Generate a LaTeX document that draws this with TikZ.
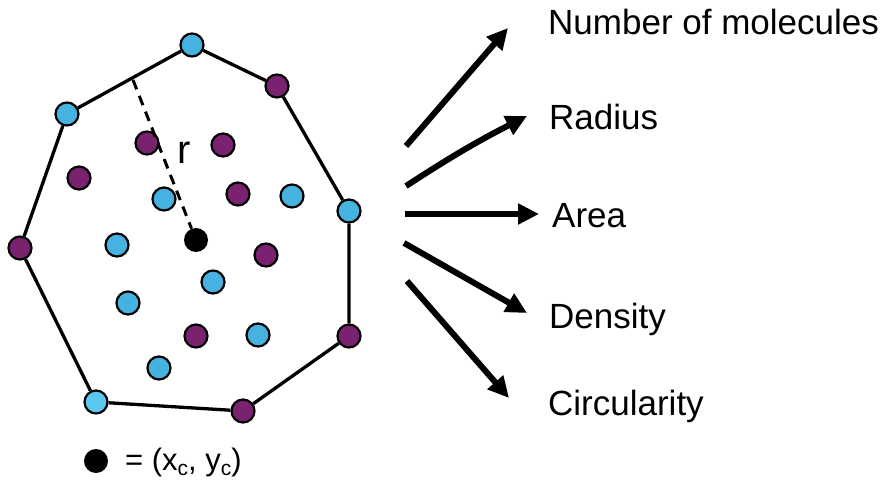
\documentclass[tikz,border=0pt]{standalone}
\usepackage{fontspec}
\setmainfont{Liberation Sans}
\usetikzlibrary{arrows.meta}
\definecolor{cblue}{RGB}{70,178,224}
\definecolor{clblue}{RGB}{92,200,240}
\definecolor{cpurp}{RGB}{122,34,112}
\tikzset{
  dot/.style={circle,draw=black,line width=2.2pt,minimum size=23pt,inner sep=0pt},
  bdot/.style={dot,fill=cblue},
  pdot/.style={dot,fill=cpurp},
  hull/.style={line width=3.3pt},
  feat/.style={line width=6pt,-{Triangle[length=21pt,width=20pt]}},
  lab/.style={anchor=base west,inner sep=0pt,font=\fontsize{35}{38}\selectfont}
}
\newcommand{\lowsub}[1]{\raisebox{-0.35ex}{\fontsize{21}{22}\selectfont #1}}
\begin{document}
\begin{tikzpicture}[x=1pt,y=-1pt]
\useasboundingbox (0,0) rectangle (888,481);
% hull points
\node[bdot] (h1) at (192,45) {};
\node[pdot] (h2) at (277,86) {};
\node[bdot] (h3) at (349,211) {};
\node[pdot] (h4) at (349,336) {};
\node[pdot] (h5) at (243,411) {};
\node[dot,fill=clblue] (h6) at (96,402) {};
\node[pdot] (h7) at (20,248) {};
\node[bdot] (h8) at (67,114) {};
\draw[hull] (h1) -- (h2) -- (h3) -- (h4) -- (h5) -- (h6) -- (h7) -- (h8) -- (h1);
% interior
\node[pdot] (p1) at (147,143) {};
\node[pdot] (p2) at (223,145) {};
\node[pdot] (p3) at (79,178) {};
\node[pdot] (p4) at (238,194) {};
\node[pdot] (p5) at (266,255) {};
\node[pdot] (p6) at (196,336) {};
\node[bdot] (b1) at (164,199) {};
\node[bdot] (b2) at (292,196) {};
\node[bdot] (b3) at (117,245) {};
\node[bdot] (b4) at (213,282) {};
\node[bdot] (b5) at (128,303) {};
\node[bdot] (b6) at (258,335) {};
\node[bdot] (b7) at (159,368) {};
% centre
\node[circle,fill=black,minimum size=24pt,inner sep=0pt] (c) at (196,240) {};
\coordinate (rt) at (133,80);
\draw[line width=3pt,dash pattern=on 10pt off 7pt] (rt) -- (c);
\node[font=\fontsize{40}{44}\selectfont,inner sep=0pt] (r) at (184,153) {r};
% legend
\node[circle,fill=black,minimum size=24pt,inner sep=0pt] (lc) at (96,461) {};
\node[lab,font=\fontsize{31}{34}\selectfont] (lt) at (125,470) {= (x\lowsub{c}, y\lowsub{c})};
% features
\node[lab] (t1) at (548,35) {Number of molecules};
\node[lab] (t2) at (549,130) {Radius};
\node[lab] (t3) at (552,227) {Area};
\node[lab] (t4) at (549,328) {Density};
\node[lab] (t5) at (548,415) {Circularity};
\coordinate (s1) at (406,146);
\coordinate (e1) at (508,28);
\coordinate (s2) at (406,186);
\coordinate (e2) at (527,116);
\coordinate (s3) at (405,214);
\coordinate (e3) at (539,214);
\coordinate (s4) at (404,243);
\coordinate (e4) at (527,313);
\coordinate (s5) at (407,281);
\coordinate (e5) at (509,398);
\draw[feat] (s1) -- (e1);
\draw[feat] (s2) to[bend left=3] (e2);
\draw[feat] (s3) -- (e3);
\draw[feat] (s4) -- (e4);
\draw[feat] (s5) -- (e5);
\end{tikzpicture}
\end{document}
